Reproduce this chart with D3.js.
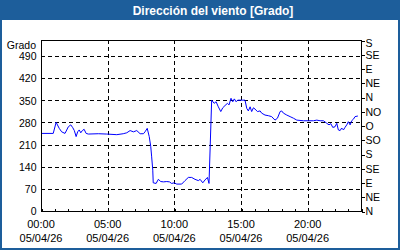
<!DOCTYPE html>
<html lang="es">
<head>
<meta charset="utf-8">
<title>Dirección del viento</title>
<style>
    body { margin: 0; background: #fff; }
    svg { display: block; font-family: "Liberation Sans", Arial, sans-serif; }
</style>
</head>
<body>
<div id="chart"></div>
<script src="https://d3js.org/d3.v7.min.js"></script>
<script>
    const title = "Dirección del viento [Grado]"
    const yLabel = "Grado"
    const day = "2026-04-05"

    // readings, hh:mm and degrees
    const times = [
        "00:00", "00:55", "01:08", "01:22", "01:33", "01:48", "02:03", "02:14", "02:23", "02:30",
        "02:38", "02:45", "02:52", "02:59", "03:06", "03:14", "03:23", "03:33", "04:18", "04:56",
        "05:41", "06:10", "06:26", "06:41", "06:56", "07:11", "07:26", "07:41", "07:48", "07:58",
        "08:07", "08:14", "08:18", "08:23", "08:25", "08:38", "08:48", "08:59", "09:11", "09:26",
        "09:38", "09:48", "09:59", "10:11", "10:33", "10:48", "11:03", "11:18", "11:33", "11:48",
        "11:56", "12:08", "12:18", "12:29", "12:36", "12:48", "12:59", "13:08", "13:18", "13:29",
        "13:38", "13:48", "13:59", "14:06", "14:15", "14:23", "14:30", "14:38", "14:45", "15:18",
        "15:26", "15:33", "15:41", "15:48", "15:56", "16:03", "16:14", "16:26", "16:33", "16:48",
        "17:03", "17:18", "17:33", "17:44", "17:56", "18:03", "18:11", "18:26", "18:41", "18:56",
        "19:11", "19:41", "20:03", "20:26", "20:41", "20:56", "21:11", "21:26", "21:36", "21:44",
        "21:53", "22:03", "22:11", "22:18", "22:26", "22:33", "22:41", "22:48", "22:56", "23:03",
        "23:11", "23:18", "23:26", "23:33", "23:46"
    ]
    const degrees = [
        245, 245, 280, 261, 250, 245, 266, 272, 263, 254,
        235, 250, 256, 247, 254, 258, 245, 243, 244, 243,
        241, 244, 247, 254, 250, 254, 244, 244, 250, 261,
        235, 203, 171, 129, 89, 87, 100, 93, 92, 93,
        92, 87, 89, 85, 85, 96, 106, 106, 100, 96,
        100, 89, 98, 106, 87, 350, 340, 345, 329, 314,
        326, 333, 340, 335, 356, 345, 354, 345, 350, 350,
        324, 316, 329, 314, 326, 322, 314, 316, 309, 303,
        301, 298, 287, 293, 314, 316, 309, 303, 298, 293,
        287, 285, 285, 285, 287, 285, 285, 277, 272, 276,
        264, 266, 277, 256, 254, 262, 256, 264, 272, 282,
        272, 285, 290, 298, 300
    ]

    const leftTicks = [0, 70, 140, 210, 280, 350, 420, 490]
    const compassTicks = [0, 45, 90, 135, 180, 225, 270, 315, 360, 405, 450, 495, 540]
    const compassNames = ["N", "NE", "E", "SE", "S", "SO", "O", "NO", "N", "NE", "E", "SE", "S"]
    const labelHours = [0, 5, 10, 15, 20]

    const W = 400, H = 250
    const barColor = "#1d5e9b"
    const pLeft = 41, pRight = 361, pTop = 40, pBottom = 211

    const parse = d3.utcParse("%Y-%m-%d %H:%M")
    const start = parse(day + " 00:00")
    const end = d3.utcDay.offset(start, 1)
    const data = times.map((t, i) => ({ t: parse(day + " " + t), v: degrees[i] }))

    const x = d3.scaleUtc().domain([start, end]).range([pLeft, pRight])
    const y = d3.scaleLinear().domain([0, 540]).range([pBottom, pTop])

    const svg = d3.select("#chart").append("svg")
        .attr("width", W)
        .attr("height", H)

    // frame and title bar
    svg.append("rect")
        .attr("x", 1).attr("y", 1).attr("width", W - 2).attr("height", H - 2)
        .attr("fill", "#fff").attr("stroke", barColor).attr("stroke-width", 2)
    svg.append("rect")
        .attr("x", 0).attr("y", 0).attr("width", W).attr("height", 20)
        .attr("fill", barColor)
    svg.append("text")
        .attr("x", 213).attr("y", 15)
        .attr("text-anchor", "middle")
        .attr("fill", "#fff")
        .attr("font-weight", "bold")
        .attr("font-size", "12px")
        .text(title)

    // grid
    const grid = svg.append("g")
        .attr("stroke", "#000")
        .attr("stroke-dasharray", "4,3")
        .attr("shape-rendering", "crispEdges")
    grid.selectAll("line.h")
        .data(leftTicks.filter(d => d > 0))
        .join("line")
        .attr("class", "h")
        .attr("x1", pLeft).attr("x2", pRight)
        .attr("y1", d => Math.round(y(d)) + 0.5).attr("y2", d => Math.round(y(d)) + 0.5)
    grid.selectAll("line.v")
        .data(labelHours.filter(d => d > 0))
        .join("line")
        .attr("class", "v")
        .attr("x1", d => Math.round(x(d3.utcHour.offset(start, d))) + 0.5)
        .attr("x2", d => Math.round(x(d3.utcHour.offset(start, d))) + 0.5)
        .attr("y1", pTop).attr("y2", pBottom)

    // data line
    svg.append("clipPath").attr("id", "clip")
        .append("rect").attr("x", pLeft).attr("y", pTop).attr("width", pRight - pLeft).attr("height", pBottom - pTop)
    svg.append("path")
        .datum(data)
        .attr("clip-path", "url(#clip)")
        .attr("fill", "none")
        .attr("stroke", "#0000ff")
        .attr("stroke-width", 1)
        .attr("d", d3.line().x(d => x(d.t)).y(d => y(d.v)))

    // plot box
    svg.append("rect")
        .attr("x", pLeft + 0.5).attr("y", pTop + 0.5)
        .attr("width", pRight - pLeft).attr("height", pBottom - pTop)
        .attr("fill", "none").attr("stroke", "#000")
        .attr("shape-rendering", "crispEdges")

    // left axis
    const yAxis = svg.append("g")
        .attr("transform", `translate(${pLeft + 0.5},0.5)`)
        .call(d3.axisLeft(y).tickValues(leftTicks).tickSize(0).tickPadding(5))
    yAxis.select(".domain").remove()
    yAxis.selectAll("text").attr("font-size", "10.5px").attr("font-family", null).attr("fill", "#000")
    svg.append("text")
        .attr("x", 36).attr("y", 48.5)
        .attr("text-anchor", "end")
        .attr("font-size", "10.5px")
        .text(yLabel)

    // right axis (compass)
    const rAxis = svg.append("g")
        .attr("transform", `translate(${pRight + 0.5},0.5)`)
        .call(d3.axisRight(y).tickValues(compassTicks).tickSize(3).tickPadding(1)
            .tickFormat((d, i) => compassNames[i]))
    rAxis.select(".domain").remove()
    rAxis.selectAll("line").attr("shape-rendering", "crispEdges")
    rAxis.selectAll("text").attr("font-size", "10.5px").attr("font-family", null).attr("fill", "#000")
    // top label sits a bit lower so it stays inside the panel
    rAxis.selectAll(".tick").filter(d => d === 540).select("text").attr("y", 3)

    // bottom axis, hourly ticks inside
    const xAxis = svg.append("g")
        .attr("transform", `translate(0.5,${pBottom + 0.5})`)
        .call(d3.axisBottom(x).ticks(d3.utcHour.every(1)).tickSize(-3).tickFormat(""))
    xAxis.select(".domain").remove()
    xAxis.selectAll("line").attr("shape-rendering", "crispEdges")

    const fmtTime = d3.utcFormat("%H:%M")
    const fmtDate = d3.utcFormat("%d/%m/%y")
    const lab = svg.append("g")
        .attr("font-size", "11px")
        .attr("text-anchor", "middle")
        .selectAll("text")
        .data(labelHours.map(h => d3.utcHour.offset(start, h)))
        .join("text")
        .attr("x", d => x(d))
        .attr("y", 228)
    lab.append("tspan").attr("x", d => x(d)).text(fmtTime)
    lab.append("tspan").attr("x", d => x(d)).attr("dy", 14).text(fmtDate)
</script>
</body>
</html>
